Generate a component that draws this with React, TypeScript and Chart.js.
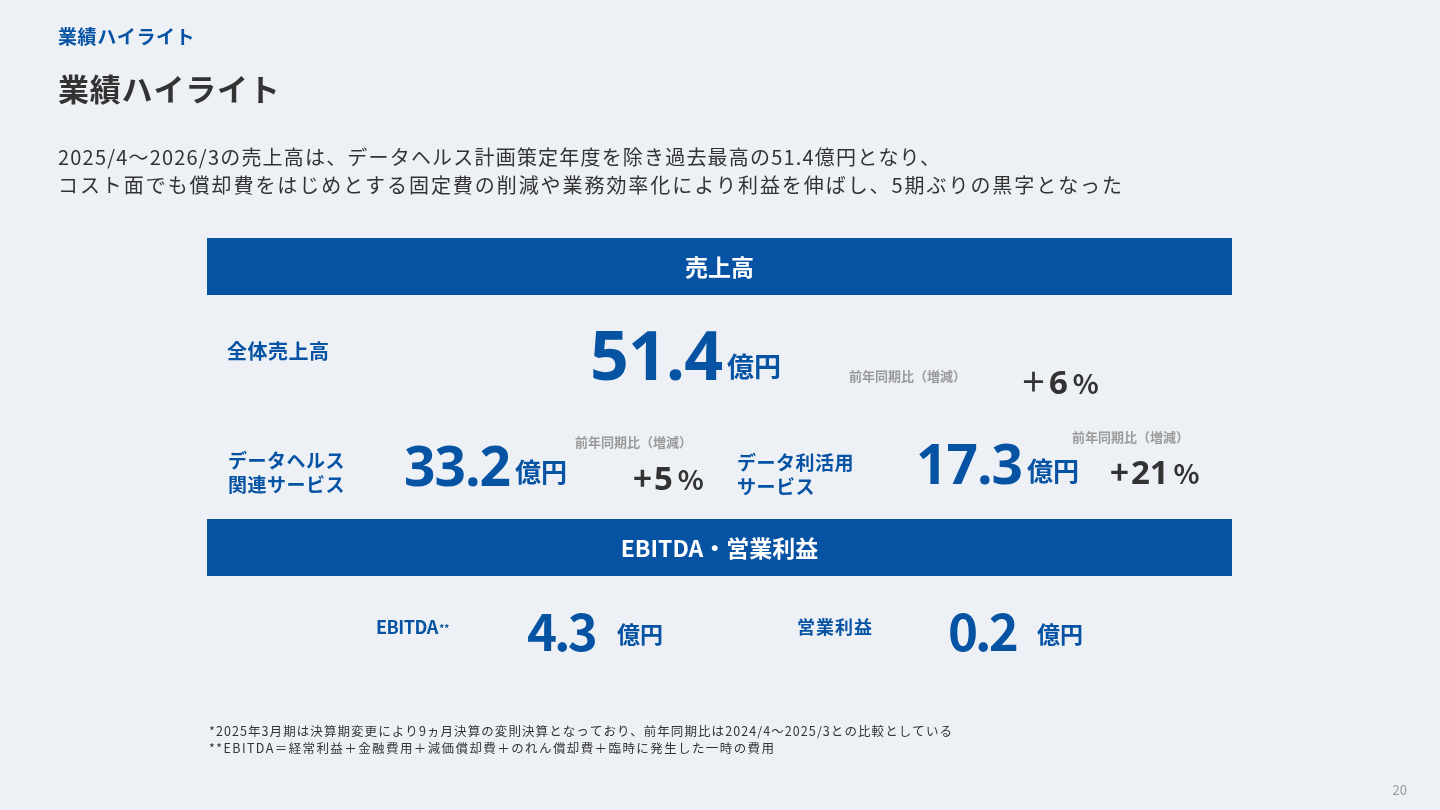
import { useEffect, useRef } from "react";
import { Chart, registerables } from "chart.js";

Chart.register(...registerables);

// slide text
const kicker = "業績ハイライト";
const title = "業績ハイライト";
const summaryLines = [
  "2025/4～2026/3の売上高は、データヘルス計画策定年度を除き過去最高の51.4億円となり、",
  "コスト面でも償却費をはじめとする固定費の削減や業務効率化により利益を伸ばし、5期ぶりの黒字となった",
];
const sectionTitles = ["売上高", "EBITDA・営業利益"];

// revenue (億円) and YoY change (%)
const revenueLabels = [["全体売上高"], ["データヘルス", "関連サービス"], ["データ利活用", "サービス"]];
const revenueValues = [51.4, 33.2, 17.3];
const yoyChanges = [6, 5, 21];
const yoyLabel = "前年同期比（増減）";

// profit (億円)
const profitLabels = ["EBITDA", "営業利益"];
const profitValues = [4.3, 0.2];

const unit = "億円";
const footnotes = [
  "*2025年3月期は決算期変更により9ヵ月決算の変則決算となっており、前年同期比は2024/4～2025/3との比較としている",
  "**EBITDA＝経常利益＋金融費用＋減価償却費＋のれん償却費＋臨時に発生した一時の費用",
];
const pageNumber = "20";

const BG = "#EDF1F5";
const BLUE = "#0753A3";
const DARK = "#333333";
const GRAY = "#9A9A9A";
const JP = '"Noto Sans CJK JP", "Noto Sans", sans-serif';
const NUM = '"Open Sans", "Noto Sans", sans-serif';

type TextOpts = {
  size: number;
  weight?: number;
  family?: string;
  color: string;
  align?: CanvasTextAlign;
  baseline?: CanvasTextBaseline;
  fit?: number; // stretch to this width with letter spacing
  spacing?: number;
};

function put(ctx: CanvasRenderingContext2D, text: string, x: number, y: number, o: TextOpts) {
  ctx.save();
  ctx.font = `${o.weight ?? 400} ${o.size}px ${o.family ?? JP}`;
  ctx.fillStyle = o.color;
  ctx.textAlign = o.align ?? "left";
  ctx.textBaseline = o.baseline ?? "middle";
  let ls = o.spacing ?? 0;
  if (o.fit) {
    (ctx as any).letterSpacing = "0px";
    const w0 = ctx.measureText(text).width;
    const n = [...text].length;
    ls = (o.fit - w0) / Math.max(1, n - 1);
  }
  (ctx as any).letterSpacing = `${ls}px`;
  ctx.fillText(text, x, y);
  const w = ctx.measureText(text).width - ls;
  ctx.restore();
  return w;
}

// layout of the three revenue blocks
const revenueLayout = [
  { lx: 227, ly: [351], vx: 590, vy: 380, vs: 68, us: 27, uy: 367, gx: 849, gy: 376, px: 1020, py: 394, sign: "＋" },
  { lx: 228, ly: [461, 485], vx: 404, vy: 486, vs: 55, us: 26, uy: 472, gx: 575, gy: 442, px: 633, py: 490, sign: "+" },
  { lx: 737, ly: [463, 487], vx: 916, vy: 484, vs: 55, us: 26, uy: 471, gx: 1072, gy: 437, px: 1110, py: 484, sign: "+" },
];
const profitLayout = [
  { lx: 376, vx: 527, ux: 617 },
  { lx: 797, vx: 948, ux: 1037 },
];

function drawSlide(ctx: CanvasRenderingContext2D) {
  put(ctx, kicker, 58, 37, { size: 19, weight: 700, color: BLUE, spacing: 0.6 });
  put(ctx, title, 58, 89, { size: 31, weight: 700, color: DARK, spacing: 0.8 });
  put(ctx, summaryLines[0], 58, 157, { size: 20, color: DARK, fit: 882 });
  put(ctx, summaryLines[1], 58, 185, { size: 20, color: DARK, fit: 1064 });

  // section bands
  const bands = [238, 519];
  bands.forEach((top, i) => {
    ctx.fillStyle = BLUE;
    ctx.fillRect(207, top, 1025, 57);
    put(ctx, sectionTitles[i], 719.5, top + 29, { size: 23, weight: 700, color: "#FFFFFF", align: "center" });
  });

  // revenue
  revenueValues.forEach((v, i) => {
    const L = revenueLayout[i];
    revenueLabels[i].forEach((t, j) =>
      put(ctx, t, L.lx, L.ly[j], { size: i === 0 ? 20 : 19, weight: 700, color: BLUE, spacing: 0.5 })
    );
    const w = put(ctx, v.toFixed(1), L.vx, L.vy, { size: L.vs, weight: 700, family: NUM, color: BLUE, baseline: "alphabetic", spacing: -1 });
    put(ctx, unit, L.vx + w + 4, L.uy, { size: L.us, weight: 700, color: BLUE });
    put(ctx, yoyLabel, L.gx, L.gy, { size: 13, weight: 700, color: GRAY });
    const sw = put(ctx, L.sign, L.px, L.py - 12, { size: i === 0 ? 27 : 32, weight: 700, color: DARK });
    const nw = put(ctx, String(yoyChanges[i]), L.px + sw + 2, L.py, { size: 33, weight: 700, family: NUM, color: DARK, baseline: "alphabetic" });
    put(ctx, "%", L.px + sw + nw + 7, L.py, { size: 27, weight: 700, color: DARK, baseline: "alphabetic" });
  });

  // profit
  profitValues.forEach((v, i) => {
    const L = profitLayout[i];
    const lw = put(ctx, profitLabels[i], L.lx, 627, { size: 18, weight: 700, color: BLUE, spacing: i === 0 ? -0.5 : 1 });
    if (i === 0) put(ctx, "**", L.lx + lw + 1, 628, { size: 10, weight: 700, color: BLUE });
    put(ctx, v.toFixed(1), L.vx, 651, { size: 51, weight: 700, color: BLUE, baseline: "alphabetic", spacing: -3 });
    put(ctx, unit, L.ux, 634, { size: 23, weight: 700, color: BLUE });
  });

  put(ctx, footnotes[0], 209, 731, { size: 12.5, color: DARK, fit: 743 });
  put(ctx, footnotes[1], 209, 748, { size: 12.5, color: DARK, fit: 565 });
  put(ctx, pageNumber, 1407, 790, { size: 13, color: GRAY, align: "right" });
}

const slidePlugin = {
  id: "slide",
  beforeDraw(chart: Chart) {
    const ctx = chart.ctx;
    ctx.save();
    ctx.fillStyle = BG;
    ctx.fillRect(0, 0, chart.width, chart.height);
    ctx.restore();
  },
  afterDraw(chart: Chart) {
    drawSlide(chart.ctx);
  },
};

export default function App() {
  const canvasRef = useRef<HTMLCanvasElement>(null);
  const chartRef = useRef<Chart | null>(null);

  useEffect(() => {
    if (!canvasRef.current) return;
    const ctx = canvasRef.current.getContext("2d");
    if (!ctx) return;
    if (chartRef.current) chartRef.current.destroy();

    chartRef.current = new Chart(ctx, {
      type: "bar",
      data: { labels: revenueLabels.map((l) => l.join("")), datasets: [] },
      options: {
        responsive: false,
        animation: false,
        layout: { padding: 0 },
        plugins: { legend: { display: false }, tooltip: { enabled: false } },
        scales: { x: { display: false }, y: { display: false } },
      },
      plugins: [slidePlugin],
    });

    return () => {
      chartRef.current?.destroy();
      chartRef.current = null;
    };
  }, []);

  return (
    <div style={{ position: "fixed", inset: 0, background: BG }}>
      <canvas ref={canvasRef} width={1440} height={810} style={{ display: "block" }} />
    </div>
  );
}
